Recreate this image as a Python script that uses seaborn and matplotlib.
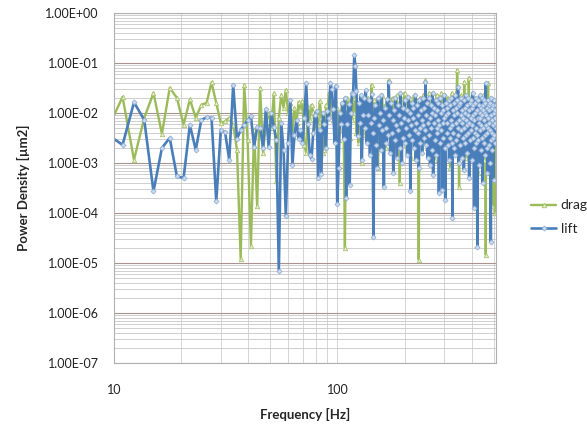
import numpy as np
import pandas as pd
import seaborn as sns
import matplotlib
matplotlib.use("Agg")
import matplotlib.pyplot as plt
from matplotlib.ticker import LogLocator, FuncFormatter, NullFormatter

# FFT bins: k * df, first bin k=7 (just below 10 Hz, clipped by the axis)
bin_start = 7
bin_df = 1.367

# power density, stored as log10 exponents
drag_log10 = [
    -2.24, -1.68, -2.94, -2.10, -1.60, -2.42, -1.50, -1.70, -2.24, -1.73,
    -2.10, -1.84, -1.80, -1.39, -1.80, -2.20, -2.17, -2.10, -2.24, -2.74,
    -4.93, -1.44, -2.54, -4.67, -2.34, -3.86, -1.50, -2.80, -2.20, -2.00,
    -2.30, -1.61, -3.37, -2.10, -1.64, -1.90, -1.54, -2.00, -1.80, -2.40,
    -1.90, -2.20,
    -1.78, -1.94, -1.76, -2.64, -2.80, -1.88, -2.14, -1.84, -1.98, -2.34,
    -2.04, -2.24, -1.76, -2.10, -2.80, -2.74, -1.84, -1.94, -1.60, -1.70,
    -1.98, -2.14, -1.74, -2.24, -1.90, -2.54, -2.34, -2.00, -1.80, -2.30,
    -4.70, -1.90, -1.70, -2.10, -2.50, -1.74, -2.14, -1.64, -2.00, -1.70,
    -2.40, -1.90, -2.60, -1.80, -2.20, -3.00, -1.75, -2.30,
    -1.90, -2.45, -2.05, -1.70, -2.60, -2.15, -1.85, -1.44, -2.30, -2.00,
    -1.75, -2.55, -2.10, -1.90, -3.10, -2.25, -1.80, -2.40, -2.00, -1.65,
    -2.35, -2.05, -1.85, -2.70, -2.20, -1.75, -2.45, -1.35, -2.10, -2.60,
    -1.90, -2.25, -1.70, -2.50, -2.05, -1.85, -2.75, -2.15, -1.65, -2.40,
    -2.00, -1.80, -3.40, -2.20, -1.70, -2.55, -2.05, -1.90, -2.35, -1.60,
    -2.25, -2.65, -1.85, -2.10, -1.75, -2.45, -2.00, -1.70, -2.30, -2.90,
    -1.80, -2.15, -1.95, -2.50, -1.65, -2.25, -2.05, -1.85, -2.60, -2.10,
    -1.75, -2.40, -4.94, -2.00, -1.70, -2.30, -2.10, -1.85, -2.55, -1.95,
    -1.65, -2.35, -2.05, -1.80, -1.35, -2.20, -1.95, -2.70, -1.75, -2.30,
    -2.05, -1.60, -2.45, -2.15, -1.85, -2.60, -1.90, -1.70, -2.35, -2.05,
    -1.80, -2.50, -2.95, -1.75, -2.20, -1.95, -1.65, -2.40, -2.10, -1.85,
    -2.65, -2.00, -1.70, -2.30, -1.90, -2.55, -1.60, -2.15, -2.00, -1.80,
    -2.45, -2.10, -1.75, -2.85, -1.95, -1.65, -2.35, -2.05, -1.85, -2.60,
    -2.00, -1.70, -2.25, -1.90, -2.50, -1.80, -2.15, -3.10, -1.75, -2.30,
    -1.95, -1.60, -2.40, -2.05, -1.85, -2.55, -2.10, -1.70, -2.35, -2.00,
    -1.80, -2.65, -1.90, -1.55, -1.14, -2.25, -1.85, -2.45, -2.05, -3.48,
    -1.75, -2.20, -1.95, -1.65, -2.50, -2.10, -1.80, -2.35, -2.00, -1.70,
    -2.60, -1.90, -2.20, -1.38, -2.05, -2.45, -1.85, -2.15, -1.75, -2.90,
    -1.95, -2.30, -1.70, -2.10, -1.85, -2.55, -1.30, -2.20, -1.90, -2.40,
    -1.75, -2.05, -2.65, -1.80, -2.25, -1.95, -1.65, -2.50, -2.10, -1.85,
    -2.35, -2.00, -1.70, -2.80, -1.95, -2.25, -1.80, -2.45, -2.05, -1.75,
    -2.60, -2.15, -1.90, -2.40, -3.20, -1.85, -2.10, -1.70, -2.55, -2.00,
    -1.80, -2.35, -1.95, -2.70, -1.75, -2.20, -1.90, -2.50, -2.05, -1.65,
    -2.40, -2.10, -1.85, -2.95, -1.80, -2.25, -2.00, -1.70, -2.60, -2.15,
    -4.84, -1.90, -2.30, -1.75, -2.50, -2.05, -1.85, -2.40, -1.40, -2.20,
    -1.95, -2.65, -1.80, -2.35, -2.10, -3.20, -1.85, -2.45, -2.00, -1.70,
    -2.55, -2.15, -1.90, -3.87, -1.75, -2.40, -2.05, -3.00, -1.85, -2.30,
    -2.10, -1.80, -2.60, -4.00, -2.20, -1.95, -2.50, -4.00,
]

lift_log10 = [
    -2.46, -2.64, -1.79, -2.14, -3.57, -2.70, -2.50, -3.27, -3.30, -2.24,
    -2.74, -2.14, -2.09, -2.10, -3.77, -2.34, -2.39, -2.94, -1.44, -2.52,
    -2.34, -2.24, -2.15, -2.06, -2.68, -2.28, -2.30, -2.70, -1.92, -2.68,
    -2.00, -2.28, -2.54, -5.16, -2.20, -2.74, -4.06, -2.60, -1.74, -3.04,
    -2.44, -2.14, -2.52, -2.35, -2.60, -2.10, -1.40, -2.22, -2.85, -2.92,
    -2.40, -2.05, -1.96, -3.30, -2.35, -3.22, -2.00, -2.22, -2.70, -1.96,
    -2.10, -1.40, -1.52, -1.92, -2.60, -1.46, -3.82, -3.10, -2.00, -2.22,
    -1.80, -2.52, -1.70, -3.70, -2.22, -1.82, -3.44, -2.00, -1.60, -1.62,
    -0.84, -1.07, -1.57, -2.47, -1.80, -2.20, -1.65, -2.95, -2.05, -1.70,
    -2.30, -1.55, -2.60, -2.05, -1.75, -2.85, -2.20, -1.62, -2.40, -4.48,
    -2.10, -1.85, -2.65, -3.10, -1.70, -2.25, -2.00, -2.75, -1.65, -2.35,
    -2.15, -3.48, -1.90, -2.30, -2.60, -1.72, -2.45, -1.38, -2.05, -2.80,
    -1.80, -2.40, -2.15, -3.20, -1.95, -2.55, -1.70, -2.25, -2.90, -1.85,
    -2.35, -2.05, -2.70, -1.60, -2.20, -3.00, -1.90, -2.50, -2.10, -1.75,
    -2.60, -2.30, -1.95, -2.85, -2.15, -1.68, -2.45, -2.00, -3.57, -2.25,
    -1.80, -2.55, -2.10, -1.90, -2.70, -2.35, -1.65, -2.95, -2.20, -1.85,
    -2.40, -2.05, -3.10, -1.75, -2.30, -2.60, -1.95, -2.15, -2.80, -1.70,
    -2.25, -2.50, -1.90, -2.35, -1.38, -2.65, -2.05, -1.80, -2.90, -2.20,
    -1.70, -2.45, -2.10, -3.05, -1.85, -2.30, -2.00, -2.75, -1.60, -3.25,
    -2.20, -1.90, -2.55, -2.05, -1.75, -2.85, -2.30, -1.95, -2.40, -2.15,
    -1.80, -3.60, -2.25, -1.70, -2.60, -2.00, -2.35, -1.85, -3.55, -2.20,
    -1.95, -2.50, -2.10, -1.65, -2.70, -3.75, -2.05, -1.80, -2.40, -2.20,
    -1.90, -2.65, -2.00, -1.75, -2.95, -2.30, -1.85, -2.50, -2.15, -1.70,
    -2.60, -2.25, -4.10, -1.95, -2.40, -1.80, -2.70, -2.05, -1.65, -2.85,
    -2.20, -1.90, -2.55, -2.00, -1.75, -2.45, -1.48, -2.30, -3.00, -1.85,
    -2.15, -2.65, -1.80, -2.35, -2.05, -1.70, -2.90, -2.20, -1.95, -2.50,
    -2.10, -1.75, -3.15, -2.30, -1.90, -2.60, -2.00, -1.65, -2.45, -2.15,
    -1.85, -2.80, -2.25, -1.70, -2.40, -2.05, -1.95, -3.30, -2.20, -1.80,
    -2.55, -2.10, -1.75, -2.35, -2.95, -1.90, -2.25, -1.60, -2.50, -2.05,
    -1.85, -2.70, -3.90, -2.15, -1.80, -2.40, -2.00, -1.70, -2.60, -2.30,
    -1.95, -2.45, -4.68, -2.10, -1.75, -2.55, -2.20, -1.85, -3.05, -2.00,
    -1.65, -2.35, -2.10, -1.90, -2.75, -2.25, -1.70, -2.50, -2.05, -3.40,
    -1.85, -2.30, -1.95, -2.60, -2.15, -1.75, -2.45, -2.00, -2.85, -1.80,
    -1.40, -2.25, -2.05, -2.70, -1.90, -2.40, -3.20, -1.75, -2.30, -2.10,
    -1.85, -2.65, -2.20, -1.95, -3.00, -2.35, -1.80, -2.55, -4.58, -2.05,
    -1.70, -2.40, -2.15, -1.90, -2.75, -2.25, -1.85, -2.50, -3.35, -2.00,
    -1.75, -2.45, -2.20, -1.95, -2.60, -2.10, -1.85, -2.30,
]

y_ticks = [1e-7, 1e-6, 1e-5, 1e-4, 1e-3, 1e-2, 1e-1, 1e0]
x_ticks = [10, 100]

def to_frame(name, logs):
    freq = bin_df * np.arange(bin_start, bin_start + len(logs))
    return pd.DataFrame({"freq": freq, "psd": np.power(10.0, logs), "series": name})

drag_df = to_frame("drag", drag_log10)
lift_df = to_frame("lift", lift_log10)

sns.set_style("white")
plt.rcParams["font.family"] = ["Lato", "DejaVu Sans"]

fig = plt.figure(figsize=(5.87, 4.28), dpi=100)
ax = fig.add_axes([0.194, 0.152, 0.651, 0.818])

sns.lineplot(data=drag_df, x="freq", y="psd", ax=ax, color="#9bbb59", lw=1.7,
             marker="^", markersize=3.2, mfc="#e4edd2", mec="#a9c46e", mew=0.6,
             label="drag", sort=True)
sns.lineplot(data=lift_df, x="freq", y="psd", ax=ax, color="#4a7ebb", lw=1.9,
             marker="D", markersize=2.6, mfc="#c9d9ee", mec="#8aaad3", mew=0.5,
             label="lift", sort=True)

ax.set_xscale("log")
ax.set_yscale("log")
ax.set_xlim(10, 512)
ax.set_ylim(1e-7, 1)

ax.yaxis.set_minor_locator(LogLocator(base=10, subs=np.arange(2, 10), numticks=100))
ax.set_yticks(y_ticks)
ax.yaxis.set_major_formatter(FuncFormatter(lambda v, p: f"{v:.2E}"))
ax.yaxis.set_minor_formatter(NullFormatter())

ax.set_xticks(x_ticks)
ax.xaxis.set_minor_locator(LogLocator(base=10, subs=np.arange(2, 10), numticks=100))
ax.xaxis.set_major_formatter(FuncFormatter(lambda v, p: f"{v:g}"))
ax.xaxis.set_minor_formatter(NullFormatter())

ax.grid(which="major", axis="y", color="#a8948e", lw=0.8)
ax.grid(which="minor", axis="y", color="#c8c8c8", lw=0.6)
ax.grid(which="both", axis="x", color="#cfcfcf", lw=0.6)
ax.set_axisbelow(True)

ax.tick_params(which="both", length=0)
ax.tick_params(axis="y", labelsize=9, pad=11, colors="#222222")
ax.tick_params(axis="x", labelsize=9, pad=15, colors="#222222")

for s in ax.spines.values():
    s.set_color("#b0b0b0")
    s.set_linewidth(0.8)

ax.set_xlabel("Frequency [Hz]", fontsize=9.5, fontweight="bold")
ax.set_ylabel("Power Density [µm2]", fontsize=9.5, fontweight="bold")
ax.xaxis.set_label_coords(0.5, -0.13)
ax.yaxis.set_label_coords(-0.22, 0.5)

ax.legend(loc="center left", bbox_to_anchor=(1.06, 0.417), frameon=False,
          fontsize=10, handlelength=1.8, handletextpad=0.3, labelspacing=0.8)

fig.savefig("out.png", dpi=100)
